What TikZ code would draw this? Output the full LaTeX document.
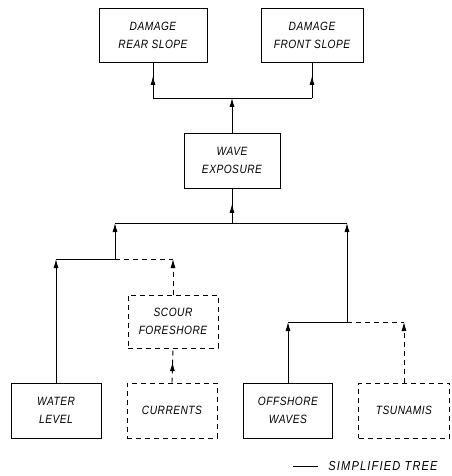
\documentclass[tikz,border=0pt]{standalone}
\usepackage{fontspec}
\usepackage{tikz}
\usetikzlibrary{arrows.meta,decorations.markings}
\newfontfamily\plotfont[FakeStretch=0.85,LetterSpace=4]{Liberation Sans}
\newfontfamily\keyfont[FakeStretch=0.85,LetterSpace=9]{Liberation Sans}
\tikzset{
  ar/.style={-{Latex[length=9pt,width=5pt]},line width=0.9pt},
  midar/.style={line width=0.9pt,postaction={decorate},
    decoration={markings,mark=at position #1 with {\arrow{Latex[length=9pt,width=5pt]}}}},
  box/.style={draw,line width=0.9pt,align=center,inner sep=0pt,
    font=\plotfont\itshape\fontsize{12}{18}\selectfont},
  dbox/.style={box,dash pattern=on 5pt off 4pt},
  dline/.style={dash pattern=on 5pt off 4pt}
}

\begin{document}
\begin{tikzpicture}[x=1pt,y=-1pt,line width=0.9pt]
\useasboundingbox (0,0) rectangle (451,476);
% top row
\node[box,minimum width=108pt,minimum height=54pt] (rear) at (153,35) {DAMAGE\\REAR SLOPE};
\node[box,minimum width=102pt,minimum height=54pt] (front) at (312,35) {DAMAGE\\FRONT SLOPE};
% middle
\node[box,minimum width=96pt,minimum height=55pt] (wave) at (232,160.5) {WAVE\\EXPOSURE};
\node[dbox,minimum width=90pt,minimum height=53pt] (scour) at (173,321.5) {SCOUR\\FORESHORE};
% bottom row
\node[box,minimum width=90pt,minimum height=55pt] (water) at (56,410.5) {WATER\\LEVEL};
\node[dbox,minimum width=90pt,minimum height=55pt] (curr) at (172,410.5) {CURRENTS};
\node[box,minimum width=89pt,minimum height=55pt] (off) at (288,410.5) {OFFSHORE\\WAVES};
\node[dbox,minimum width=91pt,minimum height=55pt] (tsu) at (404,410.5) {TSUNAMIS};

% junction points
\coordinate (tj) at (wave.north |- 0,98);
\coordinate (rj) at (rear.south |- tj);
\coordinate (fj) at (front.south |- tj);
\coordinate (bj) at (wave.south |- 0,223);
\coordinate (lj) at (115,223);
\coordinate (rgj) at (347,223);
\coordinate (lk) at (lj |- 0,259);
\coordinate (wj) at (water.north |- lk);
\coordinate (sj) at (scour.north |- lk);
\coordinate (ok) at (rgj |- 0,322);
\coordinate (oj) at (off.north |- ok);
\coordinate (tsj) at (tsu.north |- ok);

% wave exposure to damage
\draw[ar] (wave.north) -- (tj);
\draw (rj) -- (fj);
\draw[midar=0.62] (rj) -- (rear.south);
\draw[midar=0.62] (fj) -- (front.south);

% inputs to wave exposure
\draw[midar=0.55] (bj) -- (wave.south);
\draw (lj) -- (rgj);
\draw[ar] (lk) -- (lj);
\draw[ar] (ok) -- (rgj);
\draw (wj) -- (lk);
\draw[ar] (water.north) -- (wj);
\draw[dline] (lk) -- (sj);
\draw[ar,dline] (scour.north) -- (sj);
\draw[dline,midar=0.6] (curr.north) -- (scour.south);
\draw (oj) -- (ok);
\draw[ar] (off.north) -- (oj);
\draw[dline] (ok) -- (tsj);
\draw[ar,dline] (tsu.north) -- (tsj);

% key
\draw (293,466) -- (318,466) node[right,inner sep=0pt,xshift=10pt,
  font=\keyfont\itshape\fontsize{13}{14}\selectfont] (key) {SIMPLIFIED TREE};
\end{tikzpicture}
\end{document}
